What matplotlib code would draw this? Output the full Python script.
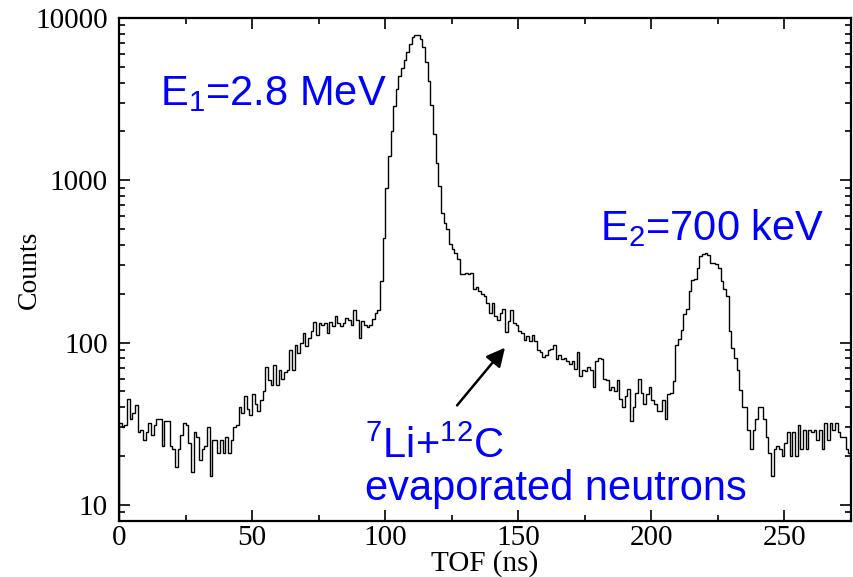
import matplotlib
matplotlib.use('Agg')
import matplotlib.pyplot as plt
import numpy as np

# --- Dados (contagens por bin de 1 ns) ---
low_tof = [32, 30, 31, 45, 34, 37, 41, 28, 29, 25,
           28, 32, 27, 31, 34, 34, 23, 33, 33, 23,
           22, 17, 22, 27, 32, 31, 24, 16, 28, 26,
           19, 22, 23, 30, 15, 25, 25, 21, 25, 21,
           26, 21, 25, 30, 31, 40, 37]                       # 0-46 ns
rise = [47, 39, 36, 48, 42, 38, 44, 50, 71, 59,
        55, 73, 55, 68, 60, 66, 68, 90, 68, 97,
        86, 99, 114, 95, 107, 118, 133, 112, 132, 129,
        132, 114, 133, 126, 145, 132, 126, 132, 142, 138,
        129, 158, 138, 107, 135, 128, 125, 128, 140, 153]  # 47-96 ns
peak1 = [159, 239, 443, 902, 1413, 2015, 2850, 3645, 4368, 4896,
         5530, 6140, 6910, 7600, 7860, 7860, 7420, 6590, 5380, 4100,
         2904, 1922, 1285, 922, 631, 543, 499, 403, 375, 358,
         325, 263, 263, 270, 263, 268, 214, 220, 207, 200]  # 97-136 ns
tail = [193, 176, 152, 176, 145, 138, 152, 161, 116, 135,
        158, 132, 128, 118, 115, 103, 109, 102, 112, 102,
        90, 88, 82, 84, 90, 91, 96, 79, 84, 79,
        80, 77, 74, 77, 69, 88, 62, 68, 67, 71,
        68, 53, 77, 80, 79]                                 # 137-181 ns
valley = [60, 59, 51, 53, 50, 59, 45, 40, 47, 52,
          33, 40, 49, 60, 49, 42, 48, 53, 44, 42,
          38, 38, 44, 34, 48, 49]                           # 182-207 ns
peak2 = [58, 97, 105, 120, 151, 160, 207, 242, 247, 290,
         340, 349, 358, 345, 311, 311, 303, 289, 239, 213,
         193, 118, 93, 80, 68, 51, 40, 40, 29, 22,
         29, 34, 40, 40, 34, 26, 21]                        # 208-244 ns
high_tof = [15, 22, 23, 22, 20, 24, 28, 20, 28, 20,
            31, 22, 29, 22, 29, 28, 29, 25, 29, 22,
            32, 25, 32, 29, 32, 28, 26, 26, 22, 21]         # 245-274 ns

counts = np.array(low_tof + rise + peak1 + tail + valley + peak2 + high_tof)
edges = np.arange(len(counts) + 1)

plt.rcParams['mathtext.fontset'] = 'custom'
plt.rcParams['mathtext.rm'] = 'Liberation Sans'
plt.rcParams['mathtext.it'] = 'Liberation Sans'

fig = plt.figure(figsize=(8.54, 5.77), dpi=100)
ax = fig.add_axes([119/854, 1 - 521/577, 732/854, 503/577])

ax.stairs(counts, edges, color='black', linewidth=1.0)

ax.set_yscale('log')
ax.set_xlim(0, 275)
ax.set_ylim(7.95, 10000)

ax.set_xticks([0, 50, 100, 150, 200, 250])
ax.set_xticks(np.arange(25, 275, 50), minor=True)
ax.set_yticks([10, 100, 1000, 10000])
ax.set_yticklabels(['10', '100', '1000', '10000'])

serif = 'Liberation Serif'
for lab in ax.get_xticklabels() + ax.get_yticklabels():
    lab.set_family(serif)
    lab.set_fontsize(21)
ax.tick_params(which='both', direction='in', top=True, right=True, width=1.2)
ax.tick_params(which='major', length=8)
ax.tick_params(which='minor', length=4)
ax.tick_params(axis='x', pad=3)
ax.tick_params(axis='y', pad=8)
for sp in ax.spines.values():
    sp.set_linewidth(1.6)

ax.set_xlabel('TOF (ns)', family=serif, fontsize=21)
ax.set_ylabel('Counts', family=serif, fontsize=20)
ax.xaxis.set_label_coords(0.5, -0.085)
ax.xaxis.label.set_va('center')
ax.yaxis.set_label_coords(-0.122, 0.5)
ax.yaxis.label.set_va('center')

# --- Anotações ---
sans = 'Liberation Sans'
fig.text(160/854, 1 - 105/577, r'E$_\mathrm{1}$=2.8 MeV', color='blue',
         family=sans, fontsize=30, va='baseline')
fig.text(600/854, 1 - 240/577, r'E$_\mathrm{2}$=700 keV', color='blue',
         family=sans, fontsize=30, va='baseline')
fig.text(365/854, 1 - 458/577, r'$^\mathrm{7}$Li+$^\mathrm{12}$C', color='blue',
         family=sans, fontsize=30, va='baseline')
fig.text(365/854, 1 - 500/577, 'evaporated neutrons', color='blue',
         family=sans, fontsize=30, va='baseline')

arrow_tail = (127, 41)
arrow_head = (145, 93)
ax.annotate('', xy=arrow_head, xytext=arrow_tail,
            arrowprops=dict(arrowstyle='-|>', color='black', lw=1.8,
                            mutation_scale=28, shrinkA=0, shrinkB=0))

fig.savefig('out.png', dpi=100)
